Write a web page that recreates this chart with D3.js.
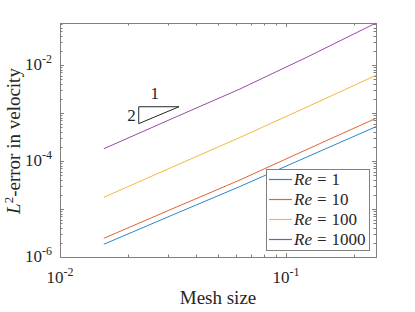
<!DOCTYPE html>
<html>
<head>
<meta charset="utf-8">
<script src="https://cdn.jsdelivr.net/npm/d3@7"></script>
<style>
  body { margin: 0; background: #fff; }
  svg { display: block; }
  text { font-family: "Liberation Serif", "Times New Roman", serif; fill: #262626; }
</style>
</head>
<body>
<svg id="chart"></svg>
<script>
var width = 415;
var height = 312;

// mesh sizes h = 1/64 ... 1/4
var meshSize = [1/64, 1/32, 1/16, 1/8, 1/4];
var errRe1 = [1.84e-6, 7.4e-6, 2.94e-5, 1.24e-4, 5.19e-4];
var errRe10 = [2.45e-6, 1.0e-5, 4.02e-5, 1.78e-4, 7.76e-4];
var errRe100 = [1.75e-5, 7.4e-5, 3.09e-4, 1.36e-3, 6.1e-3];
var errRe1000 = [1.80e-4, 7.6e-4, 3.16e-3, 1.49e-2, 7.5e-2];
var reLabels = ["1", "10", "100", "1000"];
var colors = ["#2a87cc", "#e2643a", "#f0bb3c", "#9a4aa8"];

var xTicks = [1e-2, 1e-1];
var xTickLabels = ["-2", "-1"];
var yTicks = [1e-6, 1e-4, 1e-2];
var yTickLabels = ["-6", "-4", "-2"];

// slope triangle (rise 2 over run 1 in log-log)
var triX = [0.0223, 0.0336];
var triY = [6.0e-4, 1.35e-3];

var series = [errRe1, errRe10, errRe100, errRe1000];

var svg = d3.select("#chart").attr("width", width).attr("height", height);

var margin = {left: 60, right: 39, top: 23, bottom: 55};
var x = d3.scaleLog().domain([0.01, 0.25]).range([margin.left, width - margin.right]);
var y = d3.scaleLog().domain([1e-6, d3.max(errRe1000)]).range([height - margin.bottom, margin.top]);

var x0 = x.range()[0], x1 = x.range()[1];
var y0 = y.range()[0], y1 = y.range()[1];

// minor + major ticks (n * 10^k)
var xMinor = [], yMinor = [];
for (var k = -2; k <= -1; k++) {
    for (var n = 1; n <= 9; n++) {
        var v = n * Math.pow(10, k);
        if (v >= 0.01 && v <= 0.25) xMinor.push(v);
    }
}
for (var k = -6; k <= -2; k++) {
    for (var n = 1; n <= 9; n++) {
        var v = n * Math.pow(10, k);
        if (v >= 1e-6 && v <= y.domain()[1]) yMinor.push(v);
    }
}

var ticks = svg.append("g").attr("stroke", "#262626").attr("stroke-width", 0.6);
xMinor.forEach(function(v) {
    var len = Math.abs(Math.log10(v) - Math.round(Math.log10(v))) < 1e-9 ? 4 : 2.5;
    var px = Math.round(x(v)) + 0.5;
    ticks.append("line").attr("x1", px).attr("x2", px).attr("y1", y0).attr("y2", y0 - len);
    ticks.append("line").attr("x1", px).attr("x2", px).attr("y1", y1).attr("y2", y1 + len);
});
yMinor.forEach(function(v) {
    var len = Math.abs(Math.log10(v) - Math.round(Math.log10(v))) < 1e-9 ? 4 : 2.5;
    var py = Math.round(y(v)) + 0.5;
    ticks.append("line").attr("x1", x0).attr("x2", x0 + len).attr("y1", py).attr("y2", py);
    ticks.append("line").attr("x1", x1).attr("x2", x1 - len).attr("y1", py).attr("y2", py);
});

// data lines
var line = d3.line()
    .x(function(d, i) { return x(meshSize[i]); })
    .y(function(d) { return y(d); });

svg.append("g").selectAll("path")
    .data(series)
    .enter().append("path")
    .attr("d", line)
    .attr("fill", "none")
    .attr("stroke", function(d, i) { return colors[i]; })
    .attr("stroke-width", 1);

// axes box
svg.append("rect")
    .attr("x", x0 + 0.5).attr("y", y1 + 0.5)
    .attr("width", x1 - x0).attr("height", y0 - y1)
    .attr("fill", "none").attr("stroke", "#808080").attr("stroke-width", 1);

// tick labels
xTicks.forEach(function(v, i) {
    var t = svg.append("text").attr("x", x(v)).attr("y", 283)
        .attr("text-anchor", "middle").style("font-size", "17px");
    t.append("tspan").text("10");
    t.append("tspan").attr("dy", -7).style("font-size", "12px").text(xTickLabels[i]);
});
yTicks.forEach(function(v, i) {
    var t = svg.append("text").attr("x", 52).attr("y", y(v) + 5)
        .attr("text-anchor", "end").style("font-size", "17px");
    t.append("tspan").text("10");
    t.append("tspan").attr("dy", -7).style("font-size", "12px").text(yTickLabels[i]);
});

// axis titles
svg.append("text").attr("x", (x0 + x1) / 2).attr("y", 304)
    .attr("text-anchor", "middle").style("font-size", "19px").text("Mesh size");

var yl = svg.append("text")
    .attr("transform", "translate(20," + 141 + ") rotate(-90)")
    .attr("text-anchor", "middle").style("font-size", "19px");
yl.append("tspan").style("font-style", "italic").text("L");
yl.append("tspan").attr("dy", -7).style("font-size", "13px").text("2");
yl.append("tspan").attr("dy", 7).text("-error in velocity");

// slope triangle
var tri = [[triX[0], triY[1]], [triX[1], triY[1]], [triX[0], triY[0]]];
svg.append("path")
    .attr("d", "M" + tri.map(function(p) { return x(p[0]) + "," + y(p[1]); }).join("L") + "Z")
    .attr("fill", "none").attr("stroke", "#262626").attr("stroke-width", 1);
svg.append("text").attr("x", (x(triX[0]) + x(triX[1])) / 2 - 4).attr("y", y(triY[1]) - 8)
    .attr("text-anchor", "middle").style("font-size", "17px").text("1");
svg.append("text").attr("x", x(triX[0]) - 3).attr("y", (y(triY[0]) + y(triY[1])) / 2 + 6)
    .attr("text-anchor", "end").style("font-size", "17px").text("2");

// legend
var lg = svg.append("g").attr("transform", "translate(266,169)");
lg.append("rect").attr("x", 0.5).attr("y", 0.5).attr("width", 103).attr("height", 81)
    .attr("fill", "#fff").attr("stroke", "#808080").attr("stroke-width", 1);
reLabels.forEach(function(lab, i) {
    var item = lg.append("g").attr("transform", "translate(0," + (10.5 + i * 20) + ")");
    item.append("path").attr("d", "M3,0H26")
        .attr("fill", "none").attr("stroke", colors[i]).attr("stroke-width", 1.2);
    var lt = item.append("text").attr("x", 28).attr("y", 5.5).style("font-size", "17px");
    lt.append("tspan").style("font-style", "italic").text("Re");
    lt.append("tspan").attr("dx", 5).text("=");
    lt.append("tspan").attr("dx", 5).text(lab);
});
</script>
</body>
</html>
